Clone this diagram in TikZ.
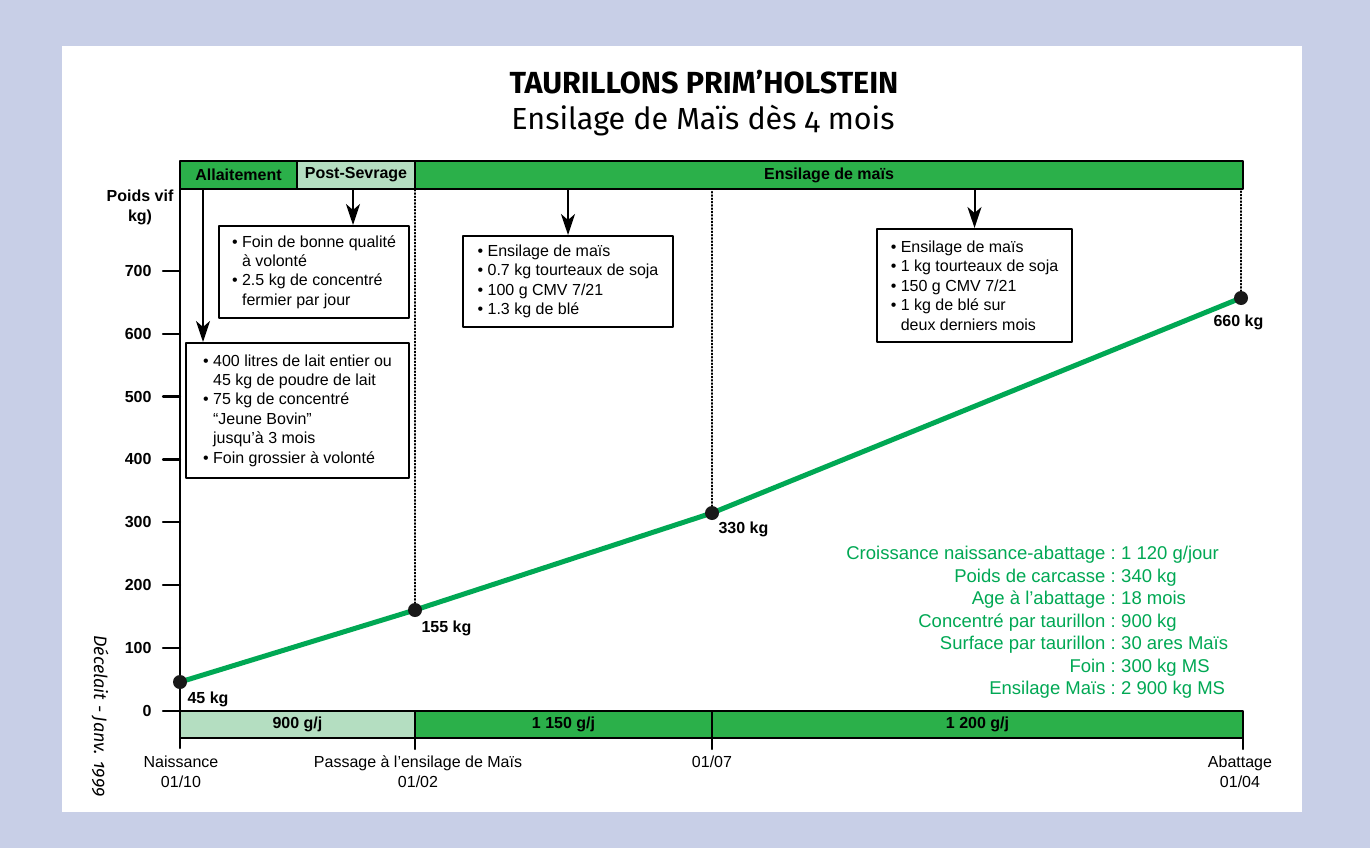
\documentclass[tikz,border=0pt]{standalone}
\usepackage{fontspec}
\setmainfont{Liberation Sans}
\newfontfamily\firafont[Numbers=OldStyle]{Fira Sans}
\usetikzlibrary{arrows.meta}
\definecolor{fondbleu}{RGB}{200,207,231}
\definecolor{vertfonce}{RGB}{43,176,74}
\definecolor{vertclair}{RGB}{180,222,193}
\definecolor{vertcourbe}{RGB}{0,168,84}
\tikzset{
  barre/.style={draw, line width=2.2pt, minimum height=28, inner sep=0pt, font=\bfseries\fontsize{16}{18}\selectfont},
  encadre/.style={draw, line width=2pt, fill=white, anchor=north west, inner xsep=0pt, inner ysep=0pt, align=left, font=\fontsize{16}{19.4}\selectfont},
  fleche/.style={line width=2pt, -{Stealth[length=21pt, width=14pt, inset=6pt]}},
  pointille/.style={dotted, line width=1.3pt},
  point/.style={circle, fill=black!90, minimum size=14pt, inner sep=0pt},
  valeur/.style={font=\bfseries\fontsize{16}{18}\selectfont},
  stat/.style={text=vertcourbe, font=\fontsize{18.5}{20}\selectfont, inner sep=0pt},
  date/.style={align=center, font=\fontsize{16}{20}\selectfont}
}
\begin{document}
\begin{tikzpicture}[x=1pt, y=-1pt, line join=round, line cap=round]
\useasboundingbox (0,0) rectangle (1370,848);
\fill[fondbleu] (0,0) rectangle (1370,848);
\fill[white] (62,46) rectangle (1302,812);
% titre
\node (titre) at (704,82) {\firafont\bfseries\fontsize{30.5}{32}\selectfont TAURILLONS PRIM’HOLSTEIN};
\node (soustitre) at (703,121) {\firafont\fontsize{30.5}{32}\selectfont Ensilage de Maïs dès 4 mois};
\node[rotate=-90] (source) at (100,716) {\firafont\itshape\fontsize{18}{20}\selectfont Décelait - Janv. 1999};
% barre du haut
\node[barre, fill=vertfonce, minimum width=117] (allait) at (238.5,175) {Allaitement};
\node[barre, fill=vertclair, minimum width=118] (postsev) at (356,175) {Post-Sevrage};
\node[barre, fill=vertfonce, minimum width=828] (ensil) at (829,175) {Ensilage de maïs};
% barre du bas
\node[barre, fill=vertclair, minimum width=235, minimum height=27] (gmq1) at (297.5,724.5) {900 g/j};
\node[barre, fill=vertfonce, minimum width=297, minimum height=27] (gmq2) at (563.5,724.5) {1 150 g/j};
\node[barre, fill=vertfonce, minimum width=531, minimum height=27] (gmq3) at (977.5,724.5) {1 200 g/j};
% axe
\draw[line width=2.2pt] (180,189) -- (180,748);
\foreach \x in {415,712,1243}
  \draw[line width=2.2pt] (\x,738) -- (\x,749);
\foreach \v/\t in {0/0,1/100,2/200,3/300,4/400,5/500,6/600,7/700}{
  \draw[line width=2.2pt] (163,711-62.9*\v) -- (180,711-62.9*\v);
  \node[valeur, anchor=east] (y\v) at (155,711-62.9*\v) {\t};
}
\node[valeur, align=center, font=\bfseries\fontsize{16}{20}\selectfont] (titreaxe) at (140,207) {Poids vif\\kg)};
% dates
\node[date] (naiss) at (181,772) {Naissance\\01/10};
\node[date] (passage) at (418,772) {Passage à l’ensilage de Maïs\\01/02};
\node[date] (juil) at (712,762) {01/07};
\node[date] (abatt) at (1240,772) {Abattage\\01/04};
% rations
\node[encadre, minimum width=190, minimum height=92] (foin) at (218,225)
  {• Foin de bonne qualité\\\phantom{• }à volonté\\• 2.5 kg de concentré\\\phantom{• }fermier par jour};
\node[encadre, minimum width=223, minimum height=135] (lait) at (185,342)
  {• 400 litres de lait entier ou\\\phantom{• }45 kg de poudre de lait\\• 75 kg de concentré\\\phantom{• }“Jeune Bovin”\\\phantom{• }jusqu’à 3 mois\\• Foin grossier à volonté};
\node[encadre, minimum width=210, minimum height=91] (mais1) at (462,235)
  {• Ensilage de maïs\\• 0.7 kg tourteaux de soja\\• 100 g CMV 7/21\\• 1.3 kg de blé};
\node[encadre, minimum width=195, minimum height=113] (mais2) at (876,228)
  {• Ensilage de maïs\\• 1 kg tourteaux de soja\\• 150 g CMV 7/21\\• 1 kg de blé sur\\\phantom{• }deux derniers mois};
\coordinate (fl1) at (203,189);
\draw[fleche] (fl1) -- (fl1 |- lait.north);
\draw[fleche] (postsev.south -| 353,0) -- (foin.north -| 353,0);
\draw[fleche] (mais1.north |- ensil.south) -- (mais1.north);
\draw[fleche] (mais2.north |- ensil.south) -- (mais2.north);
% courbe de poids
\coordinate (c45) at (180,682);
\coordinate (c155) at (415,610);
\coordinate (c330) at (712,513);
\coordinate (c660) at (1241,298);
\draw[pointille] (c155) -- (c155 |- ensil.south);
\draw[pointille] (c330) -- (c330 |- ensil.south);
\draw[pointille] (c660) -- (c660 |- ensil.south);
\draw[vertcourbe, line width=5pt] (c45) -- (c155) -- (c330) -- (c660);
\node[point] (p45) at (c45) {};
\node[point] (p155) at (c155) {};
\node[point] (p330) at (c330) {};
\node[point] (p660) at (c660) {};
\node[valeur, anchor=west] (l45) at (184,699) {45 kg};
\node[valeur, anchor=west] (l155) at (418,628) {155 kg};
\node[valeur, anchor=west] (l330) at (715,529) {330 kg};
\node[valeur, anchor=west] (l660) at (1210,322) {660 kg};
% bilan
\foreach \g/\d [count=\i] in {Croissance naissance-abattage/{1 120 g/jour}, Poids de carcasse/340 kg, Age à l’abattage/18 mois, Concentré par taurillon/900 kg, Surface par taurillon/30 ares Maïs, Foin/300 kg MS, Ensilage Maïs/2 900 kg MS}{
  \node[stat, anchor=base east] (sg\i) at (1116,537+22.5*\i) {\g{} :};
  \node[stat, anchor=base west] (sd\i) at (1121,537+22.5*\i) {\d};
}
\end{tikzpicture}
\end{document}
